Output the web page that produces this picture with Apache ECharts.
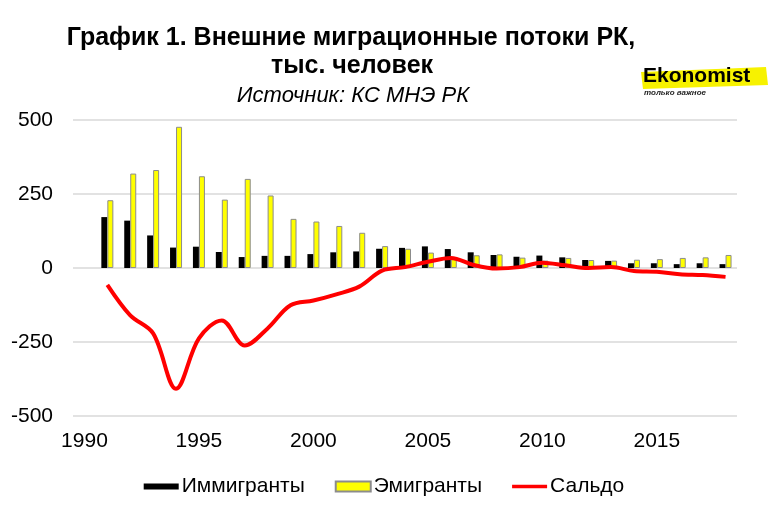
<!DOCTYPE html>
<html>
<head>
<meta charset="utf-8">
<script src="https://cdn.jsdelivr.net/npm/echarts@6/dist/echarts.min.js"></script>
<style>
  html, body { margin: 0; padding: 0; background: #fff; }
  #chart { width: 768px; height: 511px; }
</style>
</head>
<body>
<div id="chart"></div>
<script>
// годы (1990 - пустая категория, как на исходном графике)
const years = ['1990', '1991', '1992', '1993', '1994', '1995', '1996', '1997', '1998', '1999',
  '2000', '2001', '2002', '2003', '2004', '2005', '2006', '2007', '2008', '2009',
  '2010', '2011', '2012', '2013', '2014', '2015', '2016', '2017', '2018']
const immigrants = [null, 172, 160, 110, 69, 72, 54, 37, 41, 41,
  47, 53, 56, 65, 68, 73, 64, 53, 44, 38,
  42, 36, 27, 24, 16, 16, 13, 16, 13]
const emigrants = [null, 229, 319, 331, 477, 310, 231, 301, 245, 166,
  157, 142, 119, 74, 65, 52, 30, 43, 46, 35,
  25, 34, 27, 25, 28, 30, 34, 36, 44]
const saldo = [null, -57, -160, -221, -408, -238, -177, -262, -204, -126,
  -110, -89, -63, -9, 3, 21, 34, 10, -2, 3,
  18, 9, 0, 3, -10, -13, -21, -24, -30]
const yTicks = { min: -500, max: 500, step: 250 }

const font = 'Liberation Sans, Arial, sans-serif'

let myChart = echarts.init(document.getElementById('chart'))
let option = {
  backgroundColor: '#fff',
  animation: false,
  title: [
    {
      text: 'График 1. Внешние миграционные потоки РК,',
      left: 346, top: 21, textAlign: 'center',
      textStyle: { fontFamily: font, fontWeight: 'bold', fontSize: 25, color: '#000' }
    },
    {
      text: 'тыс. человек',
      left: 347, top: 49, textAlign: 'center',
      textStyle: { fontFamily: font, fontWeight: 'bold', fontSize: 25, color: '#000' }
    },
    {
      text: 'Источник: КС МНЭ РК',
      left: 348, top: 80, textAlign: 'center',
      textStyle: { fontFamily: font, fontStyle: 'italic', fontWeight: 'normal', fontSize: 22, color: '#000' }
    }
  ],
  graphic: [
    {
      type: 'polygon', z: 10,
      shape: { points: [[641, 72], [766, 67], [768, 85], [643, 89]] },
      style: { fill: '#f7f200' }
    },
    {
      type: 'text', z: 11,
      style: { x: 643, y: 87, text: 'Ekonomist', font: 'bold 21px ' + font, fill: '#000', textVerticalAlign: 'bottom' }
    },
    {
      type: 'text', z: 11,
      style: { x: 644, y: 97, text: 'только важное', font: 'italic bold 8px ' + font, fill: '#222', textVerticalAlign: 'bottom' }
    }
  ],
  legend: {
    top: 471,
    left: 'center',
    itemGap: 30,
    itemWidth: 35,
    itemHeight: 10,
    textStyle: { fontFamily: font, fontSize: 21, color: '#000', padding: [0, 0, 0, -2] },
    data: [
      { name: 'Иммигранты', icon: 'path://M0,0 L35,0 L35,6 L0,6 Z' },
      { name: 'Эмигранты', icon: 'rect' },
      { name: 'Сальдо', icon: 'path://M0,0 L35,0 L35,3.5 L0,3.5 Z', itemStyle: { color: '#ff0000' } }
    ]
  },
  grid: { left: 73, right: 31, top: 120, bottom: 95 },
  xAxis: {
    type: 'category',
    data: years,
    boundaryGap: true,
    axisLine: { show: false, onZero: false },
    axisTick: { show: false },
    axisLabel: {
      interval: 4,
      margin: 15,
      fontFamily: font,
      fontSize: 21,
      color: '#000'
    }
  },
  yAxis: {
    type: 'value',
    min: yTicks.min,
    max: yTicks.max,
    interval: yTicks.step,
    axisLine: { show: false },
    axisTick: { show: false },
    splitLine: { lineStyle: { color: '#d9d9d9', width: 1.5 } },
    axisLabel: { margin: 20, fontFamily: font, fontSize: 21, color: '#000' }
  },
  series: [
    {
      name: 'Иммигранты',
      type: 'bar',
      data: immigrants,
      barWidth: 6,
      barGap: '0%',
      itemStyle: { color: '#000' }
    },
    {
      name: 'Эмигранты',
      type: 'bar',
      data: emigrants,
      barWidth: 6,
      itemStyle: { color: '#ffff00', borderColor: '#8c8c8c', borderWidth: 1 }
    },
    {
      name: 'Сальдо',
      type: 'line',
      data: saldo,
      smooth: 0.35,
      symbol: 'none',
      z: 5,
      itemStyle: { color: '#ff0000' },
      lineStyle: { color: '#ff0000', width: 4 }
    }
  ]
}
myChart.setOption(option)
</script>
</body>
</html>
